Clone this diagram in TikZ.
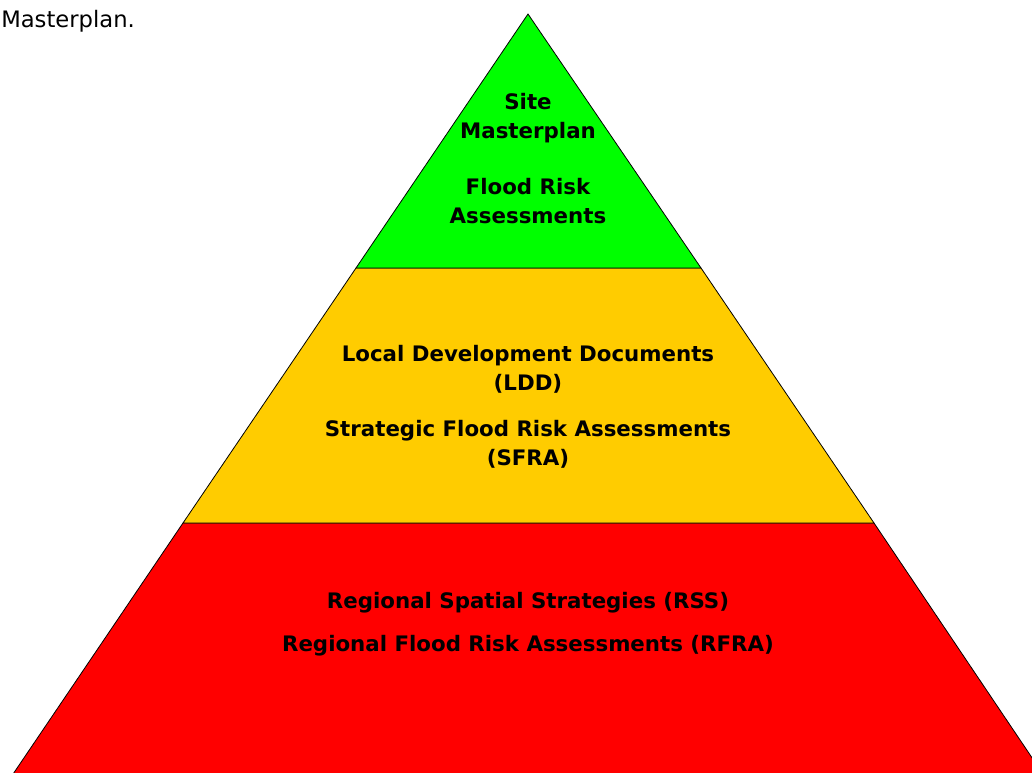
\documentclass[tikz,border=0pt]{standalone}
\usepackage{fontspec}
\setmainfont{DejaVu Sans}
\usetikzlibrary{positioning}
\definecolor{siteGreen}{HTML}{00FF00}
\definecolor{localYellow}{HTML}{FFCC00}
\definecolor{regionRed}{HTML}{FF0000}

\begin{document}
\begin{tikzpicture}[x=0.75pt, y=-0.75pt,
    tier/.style={draw=black, line width=0.6pt},
    tiertext/.style={font=\bfseries\fontsize{16}{21.75}\selectfont, align=center, anchor=base, inner sep=0pt}]
    \useasboundingbox[fill=white] (0,0) rectangle (1032,772);
    \clip (0,0) rectangle (1032,772);
    % pyramid tiers
    \coordinate (apex) at (528,14);
    \coordinate (gl) at (356,268);
    \coordinate (gr) at (701,268);
    \coordinate (yl) at (183,523);
    \coordinate (yr) at (874,523);
    \coordinate (rl) at (9,780);
    \coordinate (rr) at (1047,780);
    \draw[tier, fill=regionRed] (yl) -- (yr) -- (rr) -- (rl) -- cycle;
    \draw[tier, fill=localYellow] (gl) -- (gr) -- (yr) -- (yl) -- cycle;
    \draw[tier, fill=siteGreen] (apex) -- (gr) -- (gl) -- cycle;
    % captions (base anchor sits on the last line)
    \node[anchor=base west, inner sep=0pt, font=\fontsize{17}{20}\selectfont] (caption) at (1,27) {Masterplan.};
    \node[tiertext] (site) at (528,138) {Site\\Masterplan};
    \node[tiertext] (fra) at (528,223) {Flood Risk\\Assessments};
    \node[tiertext] (ldd) at (528,390) {Local Development Documents\\(LDD)};
    \node[tiertext] (sfra) at (528,465) {Strategic Flood Risk Assessments\\(SFRA)};
    \node[tiertext] (rss) at (528,608) {Regional Spatial Strategies (RSS)};
    \node[tiertext] (rfra) at (528,651) {Regional Flood Risk Assessments (RFRA)};
\end{tikzpicture}
\end{document}
